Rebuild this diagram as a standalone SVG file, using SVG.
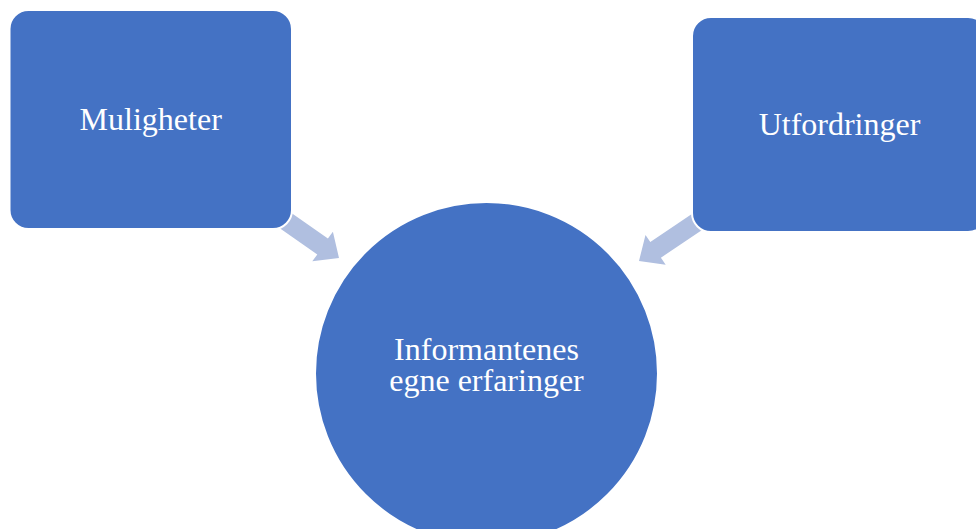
<svg xmlns="http://www.w3.org/2000/svg" width="976" height="529" viewBox="0 0 976 529">
<style>
.node{fill:#4472C4;stroke:#FFFFFF;stroke-width:2}
.arrow{fill:#B0BFE0;stroke:none}
.lbl{font-family:"Liberation Serif","Times New Roman",serif;font-size:32px;fill:#FFFFFF;text-anchor:middle}
</style>
<rect width="976" height="529" fill="#FFFFFF"/>
<g id="connectors">
<polygon class="arrow" points="278.9,204.3 327.9,238.6 332.9,231.8 339,258 312.3,261.2 317.3,254.4 268,219.9"/>
<polygon class="arrow" points="700,208.4 650.3,241.9 645.5,234.9 639,261 665.7,264.7 660.9,257.7 710.6,224.2"/>
</g>
<g id="node-muligheter">
<rect class="node" x="9.5" y="10" width="282.5" height="219" rx="19" ry="19"/>
<text class="lbl" x="150.7" y="130">Muligheter</text>
</g>
<g id="node-utfordringer">
<rect class="node" x="692" y="17" width="295" height="215" rx="19" ry="19"/>
<text class="lbl" x="839.5" y="135">Utfordringer</text>
</g>
<g id="node-informantenes">
<circle class="node" cx="486.5" cy="373.5" r="171.5"/>
<text class="lbl" x="486.5" y="360">Informantenes</text>
<text class="lbl" x="486.5" y="391">egne erfaringer</text>
</g>
</svg>
